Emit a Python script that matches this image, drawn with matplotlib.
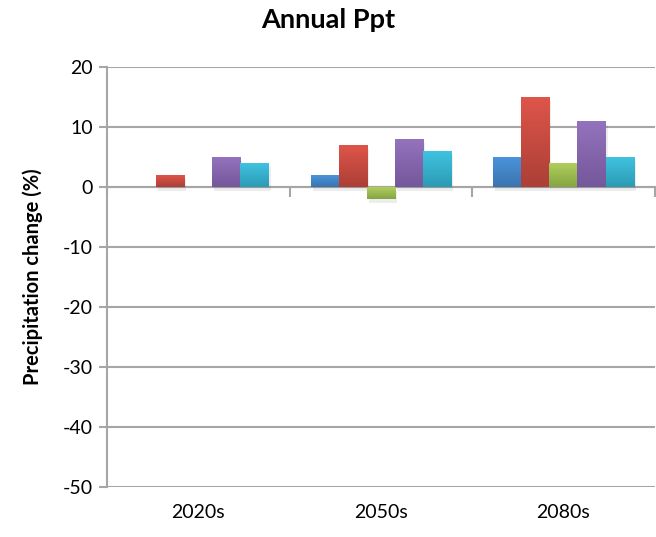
import matplotlib.pyplot as plt
import matplotlib.patheffects as pe
from matplotlib.colors import LinearSegmentedColormap
import numpy as np

plt.rcParams['font.family'] = ['Lato', 'DejaVu Sans']
plt.rcParams['axes.unicode_minus'] = False

# data
periods = ['2020s', '2050s', '2080s']
series_1 = [0, 2, 5]
series_2 = [2, 7, 15]
series_3 = [0, -2, 4]
series_4 = [5, 8, 11]
series_5 = [4, 6, 5]
y_ticks = [20, 10, 0, -10, -20, -30, -40, -50]

all_series = [series_1, series_2, series_3, series_4, series_5]
# (top colour, bottom colour) for the Excel-ish gradient
colours = [
    ('#4b93dc', '#3a74ae'),
    ('#de554a', '#ac3f36'),
    ('#afcf5c', '#86a442'),
    ('#9373bd', '#75579b'),
    ('#40c2e0', '#2c9bb4'),
]

fig = plt.figure(figsize=(6.56, 5.37), dpi=100)
ax = fig.add_axes([0.163, 0.093, 0.835, 0.782])

x = np.arange(len(periods))
n = len(all_series)
width = 1 / 6.5
grad = np.linspace(1, 0, 64).reshape(-1, 1)

for i, (vals, (top, bot)) in enumerate(zip(all_series, colours)):
    pos = x + (i - (n - 1) / 2) * width
    bars = ax.bar(pos, vals, width, color=bot, zorder=3, linewidth=0,
                  path_effects=[pe.SimplePatchShadow(offset=(1.5, -3), shadow_rgbFace='black', alpha=0.07),
                                pe.Normal()])
    cmap = LinearSegmentedColormap.from_list('g%d' % i, [bot, top])
    for b in bars:
        if b.get_height() == 0:
            continue
        x0, y0 = b.get_x(), b.get_y()
        y1 = y0 + b.get_height()
        im = ax.imshow(grad, cmap=cmap, aspect='auto', zorder=4,
                       extent=(x0, x0 + b.get_width(), min(y0, y1), max(y0, y1)))
        im.set_clip_path(b)

ax.set_xlim(-0.5, len(periods) - 0.5)
ax.set_ylim(min(y_ticks), max(y_ticks))
ax.set_yticks(y_ticks)
ax.yaxis.grid(True, color='#a6a6a6', linewidth=1.5, zorder=0)
ax.tick_params(axis='y', length=6, width=1.5, color='#a6a6a6', labelsize=14, pad=4)

for s in ['top', 'right', 'bottom']:
    ax.spines[s].set_visible(False)
ax.spines['left'].set_color('#a6a6a6')
ax.spines['left'].set_linewidth(1.5)

# category labels at the bottom
ax.set_xticks(x)
ax.set_xticklabels(periods)
ax.tick_params(axis='x', length=0, labelsize=14, pad=12)

# horizontal axis crossing at zero with ticks between categories
ylo, yhi = ax.get_ylim()
sec = ax.secondary_xaxis((0 - ylo) / (yhi - ylo))
sec.set_xticks(np.arange(len(periods) + 1) - 0.5)
sec.set_xticklabels([])
sec.tick_params(direction='in', length=7, width=1.5, color='#a6a6a6')
for s in sec.spines.values():
    s.set_color('#a6a6a6')
    s.set_linewidth(1.5)
    s.set_zorder(5)

ax.set_ylabel('Precipitation change (%)', fontsize=14.5, fontweight='bold', labelpad=14)
fig.suptitle('Annual Ppt', fontsize=19.5, fontweight='bold', y=0.985)

fig.savefig('out.png', dpi=100)
